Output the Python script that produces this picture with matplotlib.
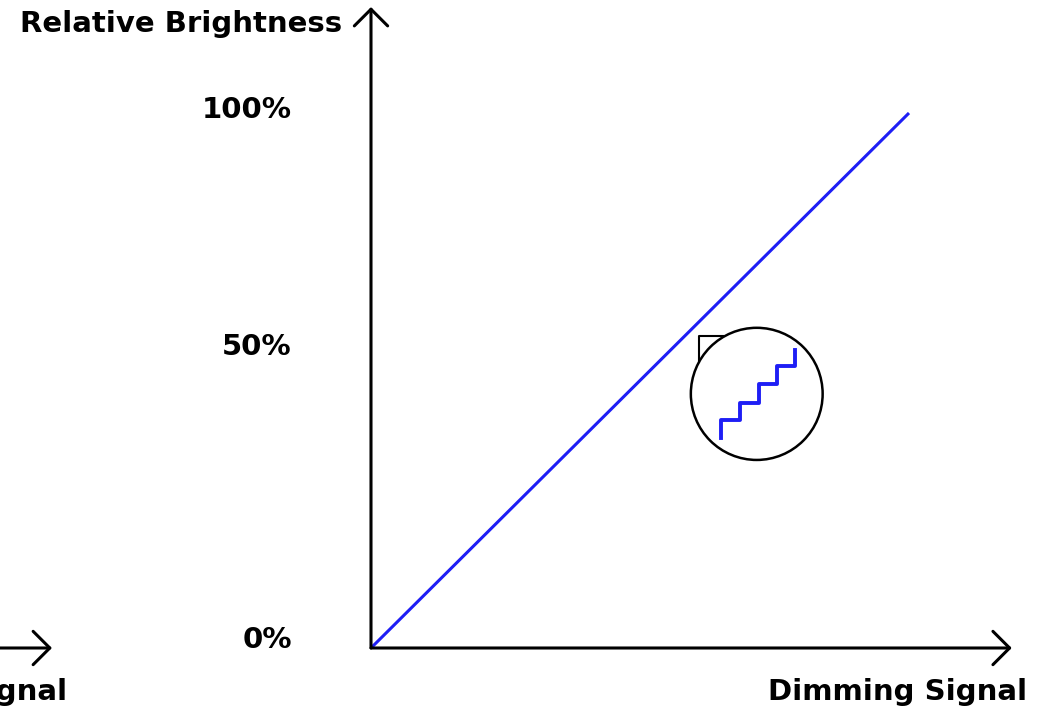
import matplotlib.pyplot as plt
from matplotlib.patches import Ellipse

# brightness follows the dimming signal linearly
signal = [0, 100]
brightness = [0, 100]

# zoomed-in detail: the line is really a staircase of small steps
step_x = [65.1, 65.1, 68.6, 68.6, 72.1, 72.1, 75.5, 75.5, 78.8, 78.8]
step_y = [39.3, 42.6, 42.6, 45.8, 45.8, 49.3, 49.3, 52.7, 52.7, 55.7]

tick_labels = ['0%', '50%', '100%']
tick_pos = [1.5, 56.3, 100.6]

blue = '#1e1ef5'
font = dict(family='DejaVu Sans', fontweight='bold', fontsize=21, color='black')

fig = plt.figure(figsize=(10.43, 7.15), dpi=100)
ax = fig.add_axes([0.3557, 0.09371, 0.51582, 0.74825])
ax.set_xlim(0, 100)
ax.set_ylim(0, 100)
ax.axis('off')

# axes with open arrowheads
arrow = dict(arrowstyle='->, head_length=0.6, head_width=0.6', lw=2.2, color='black',
             shrinkA=0, shrinkB=0, mutation_scale=20)
ax.annotate('', xy=(0, 119.8), xytext=(0, 0), arrowprops=arrow, annotation_clip=False)
ax.annotate('', xy=(119.1, 0), xytext=(0, 0), arrowprops=arrow, annotation_clip=False)
# leftover copy of the x arrow cut off at the left edge
ax.annotate('', xy=(-59.3, 0), xytext=(-80, 0), arrowprops=arrow, annotation_clip=False)

ax.plot(signal, brightness, color=blue, lw=2.2, clip_on=False, solid_capstyle='butt')

for lab, y in zip(tick_labels, tick_pos):
    ax.text(-14.7, y, lab, ha='right', va='center', clip_on=False, **font)

ax.text(-5.4, 116.6, 'Relative Brightness', ha='right', va='center', clip_on=False, **font)
ax.text(121.9, -8.2, 'Dimming Signal', ha='right', va='center', clip_on=False, **font)
ax.text(-56.5, -8.2, 'Dimming Signal', ha='right', va='center', clip_on=False, **font)

# magnifier bubble
ax.add_patch(Ellipse((71.7, 47.5), 24.5, 24.7, fill=False, lw=1.8, color='black', zorder=3))
ax.plot([65.4, 61.0, 61.0], [58.3, 58.3, 53.5], color='black', lw=1.5, zorder=3)
ax.plot(step_x, step_y, color=blue, lw=2.8, zorder=4)

fig.savefig('out.png', dpi=100, facecolor='white')
